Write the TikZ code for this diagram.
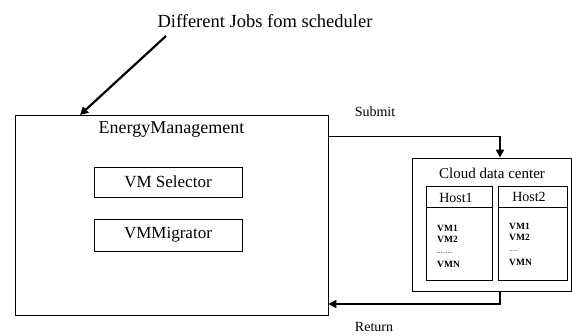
\documentclass[tikz,border=0pt]{standalone}
\usepackage{fontspec}
\setmainfont{Liberation Serif}
\usetikzlibrary{arrows.meta,calc}
\begin{document}
\begin{tikzpicture}[x=1pt,y=-1pt,
  box/.style={draw,line width=0.9pt,inner sep=0pt},
  thin/.style={line width=0.9pt},
  heavy/.style={line width=2.2pt},
  tip/.style={-{Triangle[length=8pt,width=8pt]}},
  lbl/.style={inner sep=0pt,font=\fontsize{13}{14}\selectfont},
  vm/.style={inner sep=0pt,anchor=west,font=\fontsize{9.5}{10}\selectfont\bfseries}]
\useasboundingbox (0,0) rectangle (572,335);
% title
\node[lbl,font=\fontsize{18.5}{20}\selectfont] (title) at (265,21) {Different Jobs fom scheduler};
% main box
\node[box,minimum width=313pt,minimum height=200pt] (em) at (171.5,215) {};
\node[lbl,font=\fontsize{18}{20}\selectfont] (emt) at (171.5,130) {EnergyManagement};
\node[box,minimum width=148pt,minimum height=30pt,font=\fontsize{17}{18}\selectfont] (sel) at (168,182) {VM Selector};
\node[box,minimum width=148pt,minimum height=32pt,font=\fontsize{17}{18}\selectfont] (mig) at (168,235) {VMMigrator};
% cloud
\node[box,minimum width=159pt,minimum height=133pt] (cloud) at (491.5,224.5) {};
\node[lbl,font=\fontsize{15}{16}\selectfont] (cdt) at (492,173) {Cloud data center};
\node[box,minimum width=66pt,minimum height=94pt] (h1) at (459,233) {};
\node[box,minimum width=69pt,minimum height=94pt] (h2) at (532.5,233) {};
\draw[thin] ($(h1.north west)+(0,22)$) -- ($(h1.north east)+(0,22)$);
\draw[thin] ($(h2.north west)+(0,22)$) -- ($(h2.north east)+(0,22)$);
\node[lbl,font=\fontsize{14}{15}\selectfont] (h1t) at (456,198) {Host1};
\node[lbl,font=\fontsize{14}{15}\selectfont] (h2t) at (529,197) {Host2};
\node[vm] (a1) at (437,228) {VM1};
\node[vm] (a2) at (437,239) {VM2};
\node[vm,font=\fontsize{7}{8}\selectfont] (a3) at (437,253) {.........};
\node[vm] (a4) at (437,264) {VMN};
\node[vm] (b1) at (509,226) {VM1};
\node[vm] (b2) at (509,237) {VM2};
\node[vm,font=\fontsize{7}{8}\selectfont] (b3) at (509,251) {.....};
\node[vm] (b4) at (509,262) {VMN};
% labels
\node[lbl,font=\fontsize{14}{15}\selectfont] (sub) at (375,112) {Submit};
\node[lbl,font=\fontsize{14}{15}\selectfont] (ret) at (374,327) {Return};
% connectors
\coordinate (js) at (166,36);
\coordinate (je) at (80,115);
\draw[heavy,tip] (js) -- (je);
\coordinate (s0) at (em.east |- 0,136);
\coordinate (s1) at (500,136);
\coordinate (s2) at (cloud.north -| s1);
\draw[thin] (s0) -- (s1);
\draw[heavy,tip] (s1) -- (s2);
\coordinate (r0) at (cloud.south -| s1);
\coordinate (r1) at (500,304);
\coordinate (r2) at (em.east |- r1);
\draw[heavy,tip] (r0) -- (r1) -- (r2);
\end{tikzpicture}
\end{document}
